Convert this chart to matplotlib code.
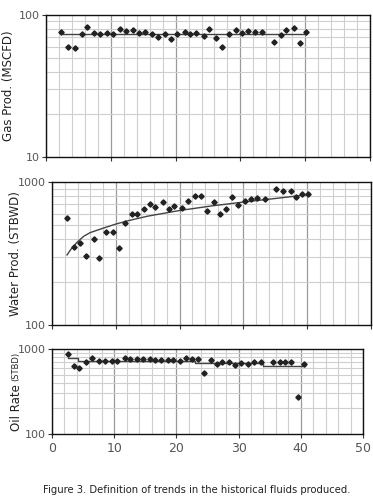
import numpy as np
import matplotlib
matplotlib.use("Agg")
import matplotlib.pyplot as plt
from matplotlib.ticker import FixedLocator, NullFormatter

# ---------------- data ----------------
gas_x = [2.3, 3.4, 4.4, 5.5, 6.4, 7.4, 8.3, 9.4, 10.4, 11.4, 12.4, 13.4, 14.4, 15.3,
         16.3, 17.3, 18.3, 19.3, 20.2, 21.4, 22.2, 23.2, 24.4, 25.2, 26.3, 27.2, 28.2,
         29.3, 30.2, 31.2, 32.2, 33.4, 35.2, 36.3, 37.1, 38.3, 39.2, 40.1]
gas_y = [75.5, 60, 59, 74, 82, 75, 74, 75, 73.5, 80, 77, 78, 74.7, 76,
         73, 70, 73, 68, 74, 75.5, 73.5, 74.7, 71, 80, 69, 60, 74,
         78.5, 75, 77, 75.5, 75.5, 65, 72, 79, 80.5, 64, 75.5]
gas_trend_x = [2.6, 40.1]
gas_trend_y = [73, 73]

water_x = [2.35, 3.4, 4.4, 5.4, 6.6, 7.4, 8.4, 9.6, 10.5, 11.4, 12.5, 13.4, 14.4, 15.4,
           16.2, 17.4, 18.3, 19.2, 20.4, 21.3, 22.4, 23.4, 24.3, 25.4, 26.3, 27.3, 28.2,
           29.2, 30.2, 31.2, 32.2, 33.4, 35.1, 36.2, 37.5, 38.3, 39.2, 40.1]
water_y = [563, 353, 373, 305, 402, 294, 449, 449, 347, 517, 594, 600, 644, 705,
           665, 728, 644, 680, 661, 736, 798, 794, 627, 721, 598, 644, 790,
           694, 732, 756, 777, 756, 889, 860, 860, 785, 829, 829]
water_trend_x = [2.35, 3, 4, 5, 6, 8, 10, 12, 15, 20, 25, 30, 35, 40.1]
water_trend_y = [309, 340, 382, 418, 443, 475, 508, 537, 577, 632, 680, 724, 767, 815]

oil_x = [2.6, 3.5, 4.4, 5.5, 6.5, 7.5, 8.5, 9.6, 10.5, 11.7, 12.6, 13.6, 14.6, 15.7,
         16.6, 17.6, 18.6, 19.5, 20.5, 21.6, 22.5, 23.5, 24.5, 25.5, 26.5, 27.4, 28.5,
         29.5, 30.4, 31.5, 32.5, 33.6, 35.6, 36.6, 37.5, 38.5, 39.5, 40.5]
oil_y = [882, 632, 604, 711, 791, 730, 730, 730, 723, 777, 757, 757, 757, 757,
         750, 750, 736, 750, 723, 791, 757, 771, 519, 736, 673, 698, 698,
         649, 685, 667, 698, 698, 698, 698, 698, 698, 274, 661]
oil_step_x = [2.6, 4.2, 23.0, 33.9, 40.6]
oil_step_y = [780, 725, 680, 632]

x_ticks = [0, 10, 20, 30, 40, 50]

# ---------------- figure ----------------
W, H = 373, 504
fig = plt.figure(figsize=(W / 100, H / 100), dpi=100)
fig.patch.set_facecolor("white")

def px_axes(l, t, r, b):
    return fig.add_axes([l / W, 1 - b / H, (r - l) / W, (b - t) / H])

ax_gas = px_axes(46, 15, 370, 157)
ax_wat = px_axes(52, 182, 371, 325)
ax_oil = px_axes(52, 349, 363, 434)

major_grid = "#9a9a9a"
minor_grid = "#cfcfcf"
tick_col = "#555555"
label_col = "#222222"

def style(ax, ymin, ymax, show_x):
    ax.set_yscale("log")
    ax.set_xlim(0, 50)
    ax.set_ylim(ymin, ymax)
    ax.xaxis.set_major_locator(FixedLocator(x_ticks))
    ax.xaxis.set_minor_locator(FixedLocator(np.arange(2, 50, 2)))
    minors = [ymin * k for k in range(2, 10)]
    ax.yaxis.set_major_locator(FixedLocator([ymin, ymax]))
    ax.yaxis.set_minor_locator(FixedLocator(minors))
    ax.yaxis.set_minor_formatter(NullFormatter())
    ax.set_yticklabels([str(ymin), str(ymax)])
    ax.grid(True, which="major", axis="x", color=major_grid, lw=0.9)
    ax.grid(True, which="minor", axis="both", color=minor_grid, lw=0.8)
    ax.set_axisbelow(True)
    ax.tick_params(which="minor", length=0)
    ax.tick_params(which="major", length=3, width=0.8, color="#333333",
                   labelsize=8, labelcolor=tick_col, pad=1.5)
    if show_x:
        ax.tick_params(axis="x", labelsize=9, pad=3)
    else:
        ax.tick_params(axis="x", labelbottom=False)
    for s in ax.spines.values():
        s.set_color("#111111")
        s.set_linewidth(1.0)

mk = dict(marker="D", ms=2.7, color="#222222", ls="none")
line_c = "#444444"

style(ax_gas, 10, 100, False)
ax_gas.plot(gas_trend_x, gas_trend_y, color=line_c, lw=1.0)
ax_gas.plot(gas_x, gas_y, **mk)
ax_gas.set_ylabel("Gas Prod. (MSCFD)", fontsize=8.5, color=label_col, labelpad=4)

style(ax_wat, 100, 1000, False)
ax_wat.plot(water_trend_x, water_trend_y, color=line_c, lw=1.0)
ax_wat.plot(water_x, water_y, **mk)
ax_wat.set_ylabel("Water Prod. (STBWD)", fontsize=8.5, color=label_col, labelpad=4)

style(ax_oil, 100, 1000, True)
ax_oil.step(oil_step_x, oil_step_y + [oil_step_y[-1]], where="post", color=line_c, lw=1.0)
ax_oil.plot(oil_x, oil_y, **mk)

for ax in (ax_gas, ax_wat):
    ax.yaxis.set_label_coords(-0.095, 0.5)

# Oil label: larger "Oil Rate" and smaller "(STBD)", as in the reference
t1 = fig.text(16 / W, 1 - 431 / H, "Oil Rate", rotation=90, ha="center", va="bottom",
              fontsize=8.5, color=label_col)
r = fig.canvas.get_renderer()
bb = t1.get_window_extent(renderer=r)
fig.text(16 / W, (bb.y1 + 3) / H, "(STBD)", rotation=90, ha="center", va="bottom",
         fontsize=6.0, color=label_col)

fig.text(197 / W, 1 - 490 / H, "Figure 3. Definition of trends in the historical fluids produced.",
         ha="center", va="center", fontsize=7.2, color="#222222")

fig.savefig("out.png", dpi=100)
